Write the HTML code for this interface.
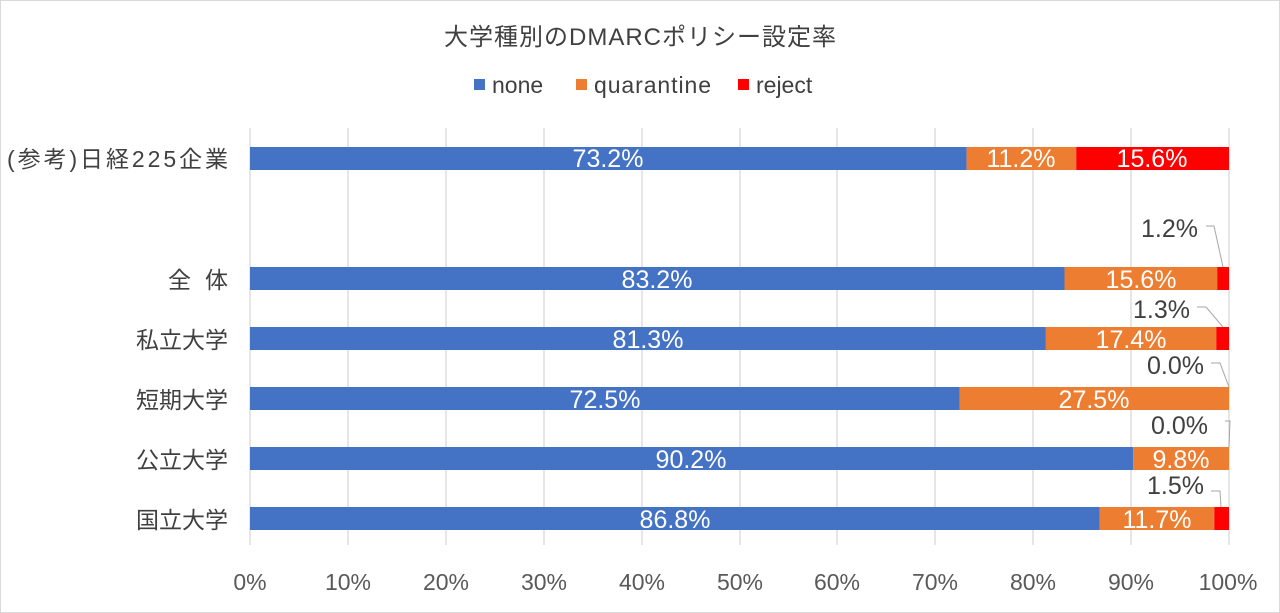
<!DOCTYPE html>
<html><head><meta charset="utf-8"><style>
html,body{margin:0;padding:0;background:#fff}
svg{display:block;font-family:"Liberation Sans","Noto Sans CJK JP",sans-serif}
</style></head><body>
<svg width="1280" height="613" viewBox="0 0 1280 613">
<rect x="0.5" y="0.5" width="1279" height="612" fill="#fff" stroke="#d9d9d9"/>
<text x="640" y="45" text-anchor="middle" font-size="24" fill="#404040" textLength="392">大学種別のDMARCポリシー設定率</text>
<rect x="474" y="79" width="11" height="11" fill="#4472c4"/>
<text x="492" y="93" font-size="23" fill="#404040">none</text>
<rect x="576" y="79" width="11" height="11" fill="#ed7d31"/>
<text x="594" y="93" font-size="23" fill="#404040" textLength="117">quarantine</text>
<rect x="738" y="79" width="11" height="11" fill="#ff0000"/>
<text x="756" y="93" font-size="23" fill="#404040">reject</text>
<g stroke="#d9d9d9" stroke-width="1.3">
<line x1="250" y1="128" x2="250" y2="545"/><line x1="348" y1="128" x2="348" y2="545"/><line x1="446" y1="128" x2="446" y2="545"/><line x1="544" y1="128" x2="544" y2="545"/><line x1="642" y1="128" x2="642" y2="545"/><line x1="740" y1="128" x2="740" y2="545"/><line x1="837" y1="128" x2="837" y2="545"/><line x1="935" y1="128" x2="935" y2="545"/><line x1="1033" y1="128" x2="1033" y2="545"/><line x1="1131" y1="128" x2="1131" y2="545"/><line x1="1229" y1="128" x2="1229" y2="545"/>
</g>
<g font-size="23" fill="#595959" text-anchor="middle">
<text x="250" y="590">0%</text><text x="348" y="590">10%</text><text x="446" y="590">20%</text><text x="544" y="590">30%</text><text x="642" y="590">40%</text><text x="740" y="590">50%</text><text x="837" y="590">60%</text><text x="935" y="590">70%</text><text x="1033" y="590">80%</text><text x="1131" y="590">90%</text><text x="1228" y="590">100%</text>
</g>
<g font-size="23" fill="#404040" text-anchor="end">
<text x="228" y="167" textLength="221">(参考)日経225企業</text>
<text x="228" y="288" textLength="60">全体</text>
<text x="228" y="348">私立大学</text>
<text x="228" y="408">短期大学</text>
<text x="228" y="468">公立大学</text>
<text x="228" y="528">国立大学</text>
</g>
<rect x="250" y="147" width="716.6" height="23" fill="#4472c4"/><rect x="966.6" y="147" width="109.6" height="23" fill="#ed7d31"/><rect x="1076.2" y="147" width="152.8" height="23" fill="#ff0000"/>
<rect x="250" y="267" width="814.5" height="23" fill="#4472c4"/><rect x="1064.5" y="267" width="152.7" height="23" fill="#ed7d31"/><rect x="1217.2" y="267" width="11.8" height="23" fill="#ff0000"/>
<rect x="250" y="327" width="795.9" height="23" fill="#4472c4"/><rect x="1045.9" y="327" width="170.4" height="23" fill="#ed7d31"/><rect x="1216.3" y="327" width="12.7" height="23" fill="#ff0000"/>
<rect x="250" y="387" width="709.8" height="23" fill="#4472c4"/><rect x="959.8" y="387" width="269.2" height="23" fill="#ed7d31"/>
<rect x="250" y="447" width="883.1" height="23" fill="#4472c4"/><rect x="1133.1" y="447" width="95.9" height="23" fill="#ed7d31"/>
<rect x="250" y="507" width="849.8" height="23" fill="#4472c4"/><rect x="1099.8" y="507" width="114.5" height="23" fill="#ed7d31"/><rect x="1214.3" y="507" width="14.7" height="23" fill="#ff0000"/>
<g font-size="25" fill="#fff" text-anchor="middle">
<text x="608" y="167">73.2%</text><text x="1021" y="167">11.2%</text><text x="1152" y="167">15.6%</text>
<text x="657" y="288">83.2%</text><text x="1141" y="288">15.6%</text>
<text x="648" y="348">81.3%</text><text x="1131" y="348">17.4%</text>
<text x="605" y="408">72.5%</text><text x="1094" y="408">27.5%</text>
<text x="691" y="468">90.2%</text><text x="1181" y="468">9.8%</text>
<text x="675" y="528">86.8%</text><text x="1157" y="528">11.7%</text>
</g>
<g font-size="25" fill="#404040" text-anchor="end">
<text x="1198" y="237">1.2%</text>
<text x="1190" y="318">1.3%</text>
<text x="1204" y="374">0.0%</text>
<text x="1208" y="434">0.0%</text>
<text x="1204" y="494">1.5%</text>
</g>
<g stroke="#a6a6a6" stroke-width="1" fill="none">
<polyline points="1206,226 1214,226 1223,267"/>
<polyline points="1197,307 1206,307 1223,327"/>
<polyline points="1211,363 1220,363 1229,387"/>
<polyline points="1225,421 1230,421 1229,447"/>
<polyline points="1211,491 1220,491 1221,507"/>
</g>
</svg>
</body></html>
